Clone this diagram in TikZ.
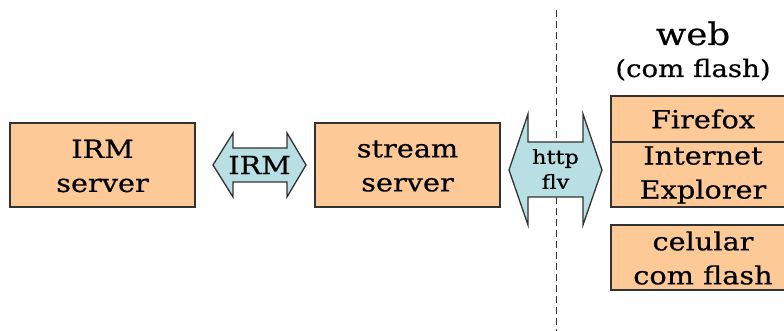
\documentclass[tikz,border=0pt]{standalone}
\usepackage{fontspec}
\setmainfont[FakeStretch=1.15,FakeBold=0.5]{DejaVu Serif}
\definecolor{boxfill}{RGB}{253,201,151}
\definecolor{arrfill}{RGB}{184,223,228}
\definecolor{edgecol}{RGB}{50,50,50}
\begin{document}
\begin{tikzpicture}[x=1pt,y=-1pt,
  box/.style={draw=edgecol, fill=boxfill, line width=1.3pt},
  arr/.style={draw=edgecol, fill=arrfill, line width=1.3pt, line join=miter},
  lbl/.style={align=center, font=\fontsize{25}{34}\selectfont, inner sep=0pt},
  small/.style={align=center, font=\fontsize{19.5}{25}\selectfont, inner sep=0pt}]
\useasboundingbox (0,0) rectangle (784,331);
\clip (0,0) rectangle (784,331);
% dashed separator
\coordinate (dtop) at (556,10);
\coordinate (dbot) at (556,331);
\draw[edgecol, line width=1pt, dash pattern=on 7pt off 4pt] (dtop) -- (dbot);
% IRM server
\path[box] (10,123) rectangle (195,207);
\node[lbl] (irmsrv) at (102.5,166) {IRM\\server};
% IRM double arrow
\path[arr] (213,165) -- (233,133) -- (233,148) -- (287,148) -- (287,133) -- (306,165)
  -- (287,197) -- (287,182) -- (233,182) -- (233,197) -- cycle;
\node[lbl] (irmarrow) at (259.5,165) {IRM};
% stream server
\path[box] (315,123) rectangle (500,207);
\node[lbl] (stream) at (407.5,166) {stream\\server};
% http flv double arrow
\path[arr] (509,170) -- (528,114) -- (528,142) -- (583,142) -- (583,114) -- (602,170)
  -- (583,225) -- (583,197) -- (528,197) -- (528,225) -- cycle;
\node[small] (http) at (555.5,169) {http\\flv};
% web title
\node[font=\fontsize{31}{34}\selectfont, anchor=base, inner sep=0pt] (web) at (693,45) {web};
\node[font=\fontsize{24}{28}\selectfont, anchor=base, inner sep=0pt] (comflash) at (693,77) {(com flash)};
% browsers
\path[box] (611,96) rectangle (795,142);
\path[box] (611,142) rectangle (795,207);
\node[lbl] (firefox) at (703,119) {Firefox};
\node[lbl] (ie) at (703,175) {Internet\\Explorer};
\path[box] (611,225) rectangle (795,290);
\node[lbl] (celular) at (703,258) {celular\\com flash};
\end{tikzpicture}
\end{document}
